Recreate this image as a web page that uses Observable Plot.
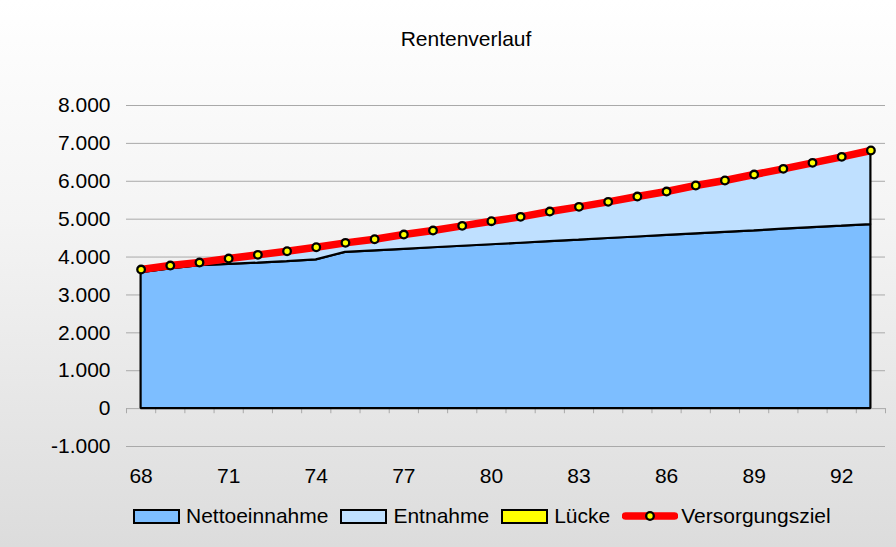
<!DOCTYPE html>
<html>
<head>
<meta charset="utf-8">
<script src="https://cdn.jsdelivr.net/npm/d3@7"></script>
<script src="https://cdn.jsdelivr.net/npm/@observablehq/plot@0.6"></script>
<style>
  html, body { margin: 0; padding: 0; }
  #chart {
    position: relative; width: 896px; height: 547px; overflow: hidden;
    background: linear-gradient(to bottom, #ffffff 0%, #f4f4f4 40%, #dcdcdc 100%);
    font-family: "Liberation Sans", Arial, sans-serif; color: #000;
  }
  #title { position: absolute; top: 27px; left: 466px; transform: translateX(-50%); font-size: 21px; line-height: 24px; white-space: nowrap; }
  #plot { position: absolute; top: 70px; left: 0; }
  #legend { position: absolute; top: 504px; left: 133px; display: flex; align-items: center; font-size: 21px; line-height: 24px; white-space: nowrap; }
  .sw { width: 47px; height: 15px; box-sizing: border-box; border: 2px solid #000; margin-right: 6px; }
  .item { display: flex; align-items: center; margin-right: 12px; }
</style>
</head>
<body>
<div id="chart">
  <div id="title">Rentenverlauf</div>
  <div id="plot"></div>
  <div id="legend"></div>
</div>
<script>
const ages = [68, 69, 70, 71, 72, 73, 74, 75, 76, 77, 78, 79, 80, 81, 82, 83, 84, 85, 86, 87, 88, 89, 90, 91, 92, 93];
const netto = [3590, 3690, 3770, 3805, 3840, 3880, 3925, 4125, 4165, 4205, 4245, 4285, 4325, 4365, 4405, 4445, 4490, 4530, 4570, 4610, 4650, 4690, 4735, 4775, 4815, 4858];
const entnahme = [80, 86, 85, 155, 218, 273, 334, 250, 305, 389, 455, 538, 621, 696, 796, 880, 967, 1067, 1159, 1278, 1370, 1488, 1593, 1712, 1830, 1954];
const luecke = [0, 0, 0, 0, 0, 0, 0, 0, 0, 0, 0, 0, 0, 0, 0, 0, 0, 0, 0, 0, 0, 0, 0, 0, 0, 0];
const ziel = [3670, 3776, 3855, 3960, 4058, 4153, 4259, 4375, 4470, 4594, 4700, 4823, 4946, 5061, 5201, 5325, 5457, 5597, 5729, 5888, 6020, 6178, 6328, 6487, 6645, 6812];
const seriesNames = ["Nettoeinnahme", "Entnahme", "Lücke", "Versorgungsziel"];
const seriesColors = ["#7dbeff", "#bfe0ff", "#ffff00", "#ff0000"];
const yTicks = [-1000, 0, 1000, 2000, 3000, 4000, 5000, 6000, 7000, 8000];
const xLabels = [68, 71, 74, 77, 80, 83, 86, 89, 92];

const areaRows = [];
ages.forEach((a, i) => {
  areaRows.push({age: a, series: seriesNames[0], value: netto[i]});
  areaRows.push({age: a, series: seriesNames[1], value: entnahme[i]});
  areaRows.push({age: a, series: seriesNames[2], value: luecke[i]});
});
const zielRows = ages.map((a, i) => ({age: a, value: ziel[i]}));
const tickBounds = ages.map(a => a - 0.5).concat([ages[ages.length - 1] + 0.5]);

const fmt = d => (d < 0 ? "-" : "") + d3.format(",")(Math.abs(d)).replace(/,/g, ".");

const chart = Plot.plot({
  width: 896, height: 425,
  marginLeft: 126, marginRight: 11, marginTop: 35, marginBottom: 49,
  style: {background: "transparent", fontFamily: "'Liberation Sans', Arial, sans-serif", fontSize: "21px", color: "#000", overflow: "visible"},
  x: {domain: [ages[0] - 0.5, ages[ages.length - 1] + 0.5], label: null},
  y: {domain: [yTicks[0], yTicks[yTicks.length - 1]], label: null},
  color: {domain: seriesNames, range: seriesColors},
  marks: [
    Plot.gridY(yTicks, {stroke: "#a9a9a9", strokeOpacity: 1, strokeWidth: 1}),
    Plot.ruleX(tickBounds, {y1: 0, y2: -135, stroke: "#a9a9a9", strokeWidth: 1}),
    Plot.areaY(areaRows, Plot.stackY({x: "age", y: "value", z: "series", fill: "series", order: seriesNames, stroke: "#000", strokeWidth: 2.2, strokeLinejoin: "miter"})),
    Plot.line(zielRows, {x: "age", y: "value", stroke: seriesColors[3], strokeWidth: 7.5, strokeLinecap: "butt", strokeLinejoin: "round"}),
    Plot.dot(zielRows, {x: "age", y: "value", r: 3.8, fill: "#ffff00", stroke: "#000", strokeWidth: 2.3}),
    Plot.axisY(yTicks, {tickSize: 0, tickPadding: 16, tickFormat: fmt, fontSize: 21, label: null}),
    Plot.axisX(xLabels, {tickSize: 0, tickPadding: 22, tickFormat: d => String(d), fontSize: 21, label: null})
  ]
});
document.getElementById("plot").appendChild(chart);

// legend
const legend = document.getElementById("legend");
seriesNames.forEach((name, i) => {
  const item = document.createElement("div");
  item.className = "item";
  if (i < 3) {
    const sw = document.createElement("div");
    sw.className = "sw";
    sw.style.background = seriesColors[i];
    item.appendChild(sw);
  } else {
    const ns = "http://www.w3.org/2000/svg";
    const svg = document.createElementNS(ns, "svg");
    svg.setAttribute("width", 56); svg.setAttribute("height", 16);
    svg.style.marginRight = "3px";
    const ln = document.createElementNS(ns, "line");
    ln.setAttribute("x1", 3.5); ln.setAttribute("x2", 52.5); ln.setAttribute("y1", 8); ln.setAttribute("y2", 8);
    ln.setAttribute("stroke", seriesColors[3]); ln.setAttribute("stroke-width", 7.5); ln.setAttribute("stroke-linecap", "round");
    svg.appendChild(ln);
    const c = document.createElementNS(ns, "circle");
    c.setAttribute("cx", 28); c.setAttribute("cy", 8); c.setAttribute("r", 3.8);
    c.setAttribute("fill", "#ffff00"); c.setAttribute("stroke", "#000"); c.setAttribute("stroke-width", 2.3);
    svg.appendChild(c);
    item.appendChild(svg);
  }
  const t = document.createElement("span");
  t.textContent = name;
  item.appendChild(t);
  legend.appendChild(item);
});
</script>
</body>
</html>
